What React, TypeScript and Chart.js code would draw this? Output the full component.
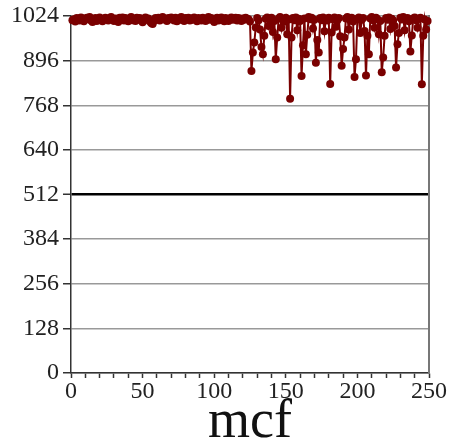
import React, { useEffect, useRef } from 'react';
import { Chart, registerables } from 'chart.js';
Chart.register(...registerables);

// x = 1..123
const valuesFlat = [
  1012,1015,1008,1018,1016,1011,1020,1017,1009,1014,
  1019,1016,1021,1011,1007,1015,1018,1010,1017,1020,
  1014,1009,1016,1019,1015,1011,1018,1021,1016,1010,
  1017,1013,1007,1019,1016,1020,1011,1018,1015,1009,
  1017,1021,1012,1016,1010,1019,1015,1018,1011,1006,
  1016,1020,1013,1017,1009,1004,1001,1010,1018,1015,
  1019,1011,1016,1021,1017,1013,1010,1018,1015,1020,
  1016,1011,1019,1009,1017,1013,1021,1016,1010,1018,
  1015,1019,1011,1017,1013,1020,1016,1009,1018,1015,
  1011,1019,1016,1010,1017,1021,1013,1018,1015,1007,
  1016,1019,1011,1017,1020,1013,1009,1018,1015,1010,
  1017,1020,1013,1016,1019,1011,1018,1015,1010,1017,
  1013,1019,1016,
];
// x = 124..249
const valuesSpiky = [
  1015,1008,866,919,948,991,1018,1012,985,935,
  914,967,1016,1020,995,1014,1019,978,1010,900,
  962,1017,1021,990,1015,1008,1019,972,1014,787,
  962,1018,1012,1020,983,1016,1010,852,940,1017,
  914,970,1021,1015,1019,988,1013,890,955,919,
  1018,1012,1020,980,1016,1011,1019,829,977,1015,
  1020,993,1012,1018,966,881,929,962,1017,1021,
  985,1014,1019,1008,849,900,1016,1020,975,1013,
  1018,981,853,967,914,1017,1021,1012,990,1019,
  1015,972,1010,863,905,967,1018,1013,1020,987,
  1016,1011,995,876,943,975,1019,1014,1021,983,
  1015,1018,1009,922,968,1017,1020,1012,990,1016,
  1019,828,967,1014,985,1010,
];
const xFirst = 1;
const yMin = 0;
const yMax = 1024;
const yStep = 128;
const xMin = 0;
const xMax = 250;
const xStep = 10;
const xLabelEvery = 50;
const xTitle = 'mcf';

export default function App() {
  const ref = useRef<HTMLCanvasElement>(null);
  useEffect(() => {
    document.body.style.margin = '0';
    const all = valuesFlat.concat(valuesSpiky);
    const pts = all.map((v, i) => ({ x: xFirst + i, y: v }));
    const red = '#7a0000';
    const fam = '"Liberation Serif"';
    const font = { family: fam, size: 24, lineHeight: 1 };
    const chart = new Chart(ref.current!, {
      type: 'line',
      data: {
        datasets: [
          {
            data: pts,
            borderColor: red,
            backgroundColor: red,
            borderWidth: 2,
            pointRadius: 4,
            pointBorderWidth: 0,
            pointBackgroundColor: red,
            tension: 0,
            clip: false,
          },
        ],
      },
      options: {
        responsive: false,
        animation: false,
        events: [],
        layout: { padding: { left: 7, right: 6, top: 3, bottom: -6 } },
        plugins: { legend: { display: false }, tooltip: { enabled: false } },
        scales: {
          x: {
            type: 'linear',
            min: xMin,
            max: xMax,
            ticks: {
              stepSize: xStep,
              autoSkip: false,
              maxRotation: 0,
              color: '#222',
              font,
              padding: 2,
              callback: (v: any) => (Number(v) % xLabelEvery === 0 ? String(v) : ''),
            },
            grid: { drawOnChartArea: false, tickLength: 5, tickColor: '#333', tickWidth: 1.5 },
            border: { color: '#333', width: 1.5 },
            title: {
              display: true,
              text: xTitle,
              color: '#111',
              font: { family: fam, size: 54, lineHeight: 1 },
              padding: { top: -10, bottom: 0 },
            },
          },
          y: {
            min: yMin,
            max: yMax,
            ticks: { stepSize: yStep, color: '#222', font, padding: 4, callback: (v: any) => String(v) },
            grid: {
              color: (ctx: any) => (ctx.tick && ctx.tick.value === 512 ? '#000' : '#999'),
              lineWidth: (ctx: any) => (ctx.tick && ctx.tick.value === 512 ? 2.5 : 1.5),
              tickColor: '#333',
              tickLength: 8,
              tickWidth: 1.5,
            },
            border: { color: '#333', width: 1.5 },
          },
          y2: {
            position: 'right',
            min: yMin,
            max: yMax,
            ticks: { display: false },
            grid: { drawOnChartArea: false, drawTicks: false },
            border: { color: '#777', width: 2 },
          },
        },
      },
    });
    return () => chart.destroy();
  }, []);
  return (
    <div style={{ position: 'absolute', left: 0, top: 0, width: 449, height: 444 }}>
      <canvas ref={ref} width={449} height={444} />
    </div>
  );
}
